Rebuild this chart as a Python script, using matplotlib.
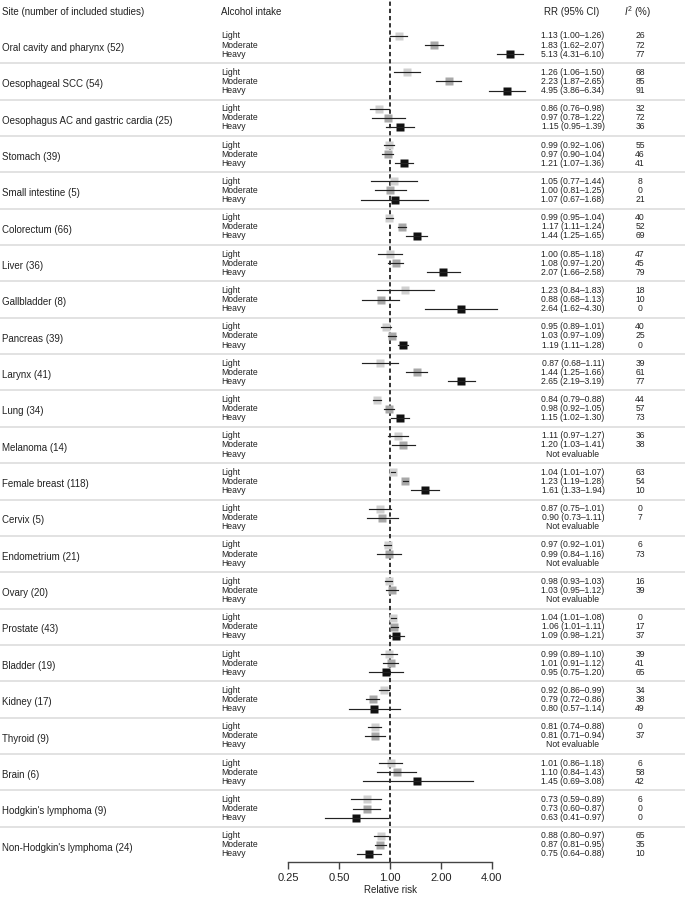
import matplotlib
matplotlib.use("Agg")
import matplotlib.pyplot as plt
from matplotlib.ticker import NullLocator
from matplotlib.transforms import blended_transform_factory

plt.rcParams['font.family'] = ['Liberation Sans', 'DejaVu Sans']
plt.rcParams['mathtext.fontset'] = 'custom'
plt.rcParams['mathtext.rm'] = 'Liberation Sans'
plt.rcParams['mathtext.it'] = 'Liberation Sans:italic'

# sites and number of included studies
sites = ["Oral cavity and pharynx", "Oesophageal SCC", "Oesophagus AC and gastric cardia",
         "Stomach", "Small intestine", "Colorectum", "Liver", "Gallbladder", "Pancreas",
         "Larynx", "Lung", "Melanoma", "Female breast", "Cervix", "Endometrium", "Ovary",
         "Prostate", "Bladder", "Kidney", "Thyroid", "Brain", "Hodgkin's lymphoma",
         "Non-Hodgkin's lymphoma"]
n_studies = [52, 54, 25, 39, 5, 66, 36, 8, 39, 41, 34, 14, 118, 5, 21, 20, 43, 19, 17, 9, 6, 9, 24]

levels = ["Light", "Moderate", "Heavy"]

# relative risks (None = not evaluable)
rr_light = [1.13, 1.26, 0.86, 0.99, 1.05, 0.99, 1.00, 1.23, 0.95, 0.87, 0.84, 1.11, 1.04,
            0.87, 0.97, 0.98, 1.04, 0.99, 0.92, 0.81, 1.01, 0.73, 0.88]
lo_light = [1.00, 1.06, 0.76, 0.92, 0.77, 0.95, 0.85, 0.84, 0.89, 0.68, 0.79, 0.97, 1.01,
            0.75, 0.92, 0.93, 1.01, 0.89, 0.86, 0.74, 0.86, 0.59, 0.80]
hi_light = [1.26, 1.50, 0.98, 1.06, 1.44, 1.04, 1.18, 1.83, 1.01, 1.11, 0.88, 1.27, 1.07,
            1.01, 1.01, 1.03, 1.08, 1.10, 0.99, 0.88, 1.18, 0.89, 0.97]
i2_light = [26, 68, 32, 55, 8, 40, 47, 18, 40, 39, 44, 36, 63, 0, 6, 16, 0, 39, 34, 0, 6, 6, 65]

rr_moderate = [1.83, 2.23, 0.97, 0.97, 1.00, 1.17, 1.08, 0.88, 1.03, 1.44, 0.98, 1.20, 1.23,
               0.90, 0.99, 1.03, 1.06, 1.01, 0.79, 0.81, 1.10, 0.73, 0.87]
lo_moderate = [1.62, 1.87, 0.78, 0.90, 0.81, 1.11, 0.97, 0.68, 0.97, 1.25, 0.92, 1.03, 1.19,
               0.73, 0.84, 0.95, 1.01, 0.91, 0.72, 0.71, 0.84, 0.60, 0.81]
hi_moderate = [2.07, 2.65, 1.22, 1.04, 1.25, 1.24, 1.20, 1.13, 1.09, 1.66, 1.05, 1.41, 1.28,
               1.11, 1.16, 1.12, 1.11, 1.12, 0.86, 0.94, 1.43, 0.87, 0.95]
i2_moderate = [72, 85, 72, 46, 0, 52, 45, 10, 25, 61, 57, 38, 54, 7, 73, 39, 17, 41, 38, 37, 58, 0, 35]

rr_heavy = [5.13, 4.95, 1.15, 1.21, 1.07, 1.44, 2.07, 2.64, 1.19, 2.65, 1.15, None, 1.61,
            None, None, None, 1.09, 0.95, 0.80, None, 1.45, 0.63, 0.75]
lo_heavy = [4.31, 3.86, 0.95, 1.07, 0.67, 1.25, 1.66, 1.62, 1.11, 2.19, 1.02, None, 1.33,
            None, None, None, 0.98, 0.75, 0.57, None, 0.69, 0.41, 0.64]
hi_heavy = [6.10, 6.34, 1.39, 1.36, 1.68, 1.65, 2.58, 4.30, 1.28, 3.19, 1.30, None, 1.94,
            None, None, None, 1.21, 1.20, 1.14, None, 3.08, 0.97, 0.88]
i2_heavy = [77, 91, 36, 41, 21, 69, 79, 0, 0, 77, 73, None, 10, None, None, None, 37, 65, 49,
            None, 42, 0, 10]

series = [(rr_light, lo_light, hi_light, i2_light, "#d0d0d0", 5.6),
          (rr_moderate, lo_moderate, hi_moderate, i2_moderate, "#a8a8a8", 5.6),
          (rr_heavy, lo_heavy, hi_heavy, i2_heavy, "#111111", 6.0)]

W, H = 685, 897
fig = plt.figure(figsize=(W / 100, H / 100), dpi=100)
ax = fig.add_axes([288.3 / W, (H - 861.7) / H, 203.4 / W, 861.7 / H])
ax.set_xscale('log', base=2)
ax.set_xlim(0.25, 4)
ax.set_ylim(90.85, -3.96)

# x in figure fraction, y in data rows
tr = blended_transform_factory(fig.transFigure, ax.transData)

txt = 6.2
for g, site in enumerate(sites):
    y0 = g * 4
    ax.text(2 / W, y0 + 1.3, "%s (%d)" % (site, n_studies[g]), transform=tr,
            fontsize=7, va='center', ha='left', color='#222222')
    for r, (rr, lo, hi, i2, col, ms) in enumerate(series):
        y = y0 + r
        ax.text(221 / W, y, levels[r], transform=tr, fontsize=txt, va='center',
                ha='left', color='#222222')
        if rr[g] is None:
            ax.text(573 / W, y, "Not evaluable", transform=tr, fontsize=txt,
                    va='center', ha='center', color='#222222')
            continue
        ax.plot(rr[g], y, marker='s', ms=ms, color=col, mec='none', zorder=3, clip_on=False)
        ax.plot([lo[g], hi[g]], [y, y], color='#222222', lw=0.85, zorder=4, clip_on=False)
        ax.text(573 / W, y, "%.2f (%.2f\u2013%.2f)" % (rr[g], lo[g], hi[g]), transform=tr,
                fontsize=txt, va='center', ha='center', color='#222222')
        ax.text(640 / W, y, "%d" % i2[g], transform=tr, fontsize=txt,
                va='center', ha='center', color='#222222')
    if g < len(sites) - 1:
        ax.plot([0, 1], [y0 + 3, y0 + 3], transform=tr, color='#dddddd', lw=1.2,
                clip_on=False, zorder=1)

# headers
hy = -2.6
ax.text(2 / W, hy, "Site (number of included studies)", transform=tr, fontsize=7,
        va='center', ha='left', color='#222222')
ax.text(221 / W, hy, "Alcohol intake", transform=tr, fontsize=7, va='center',
        ha='left', color='#222222')
ax.text(572 / W, hy, "RR (95% CI)", transform=tr, fontsize=7, va='center',
        ha='center', color='#222222')
ax.text(637 / W, hy, r"$I^2$ (%)", transform=tr, fontsize=7, va='center',
        ha='center', color='#222222')

ax.axvline(1, color='#333333', lw=1.4, ls=(0, (2.2, 1.5)), zorder=2)

ax.set_xticks([0.25, 0.5, 1, 2, 4])
ax.set_xticklabels(["0.25", "0.50", "1.00", "2.00", "4.00"])
ax.xaxis.set_minor_locator(NullLocator())
ax.set_yticks([])
for s in ['left', 'top', 'right']:
    ax.spines[s].set_visible(False)
ax.spines['bottom'].set_color('#444444')
ax.spines['bottom'].set_linewidth(1.0)
ax.tick_params(axis='x', length=5, width=1.0, color='#444444', labelsize=8,
               pad=3, labelcolor='#222222')
ax.set_xlabel("Relative risk", fontsize=7, labelpad=1.5, color='#222222')
ax.patch.set_alpha(0)

fig.savefig("out.png", dpi=100)
